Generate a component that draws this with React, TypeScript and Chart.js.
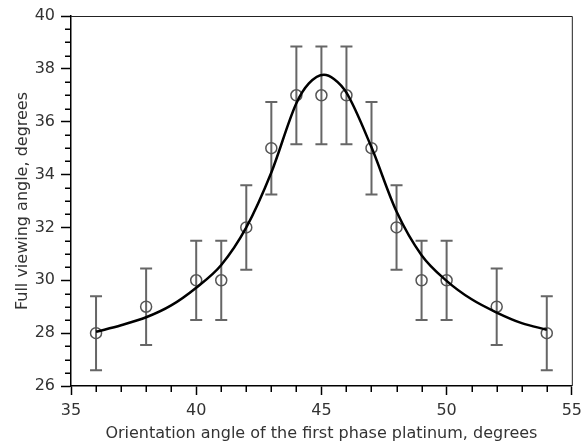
import React, { useEffect, useRef } from 'react';
import { Chart, registerables } from 'chart.js';

Chart.register(...registerables);

// Measured points (orientation angle, full viewing angle) and error half-widths
const xValues = [36, 38, 40, 41, 42, 43, 44, 45, 46, 47, 48, 49, 50, 52, 54];
const yValues = [28, 29, 30, 30, 32, 35, 37, 37, 37, 35, 32, 30, 30, 29, 28];
const errValues = [1.4, 1.45, 1.5, 1.5, 1.6, 1.75, 1.85, 1.85, 1.85, 1.75, 1.6, 1.5, 1.5, 1.45, 1.4];

// Fitted curve
const fitX = [36, 37, 38, 39, 40, 41, 42, 43, 44, 44.5, 45.1, 45.5, 46, 47, 48, 49, 50, 51, 52, 53, 54];
const fitY = [28.05, 28.3, 28.6, 29.05, 29.72, 30.58, 32.0, 34.08, 36.7, 37.45, 37.78, 37.62, 37.1, 35.03, 32.6, 30.95, 29.98, 29.28, 28.78, 28.38, 28.13];

const xTitle = 'Orientation angle of the first phase platinum, degrees';
const yTitle = 'Full viewing angle, degrees';

const FONT = "'DejaVu Sans', Verdana, sans-serif";

export default function App() {
  const ref = useRef<HTMLCanvasElement | null>(null);

  useEffect(() => {
    const canvas = ref.current;
    if (!canvas) return;

    const errorBars = {
      id: 'errorBars',
      beforeDatasetsDraw(chart: any) {
        const { ctx, scales } = chart;
        const x = scales.x;
        const y = scales.y;
        ctx.save();
        ctx.strokeStyle = '#666';
        ctx.lineWidth = 2;
        const cap = 6;
        xValues.forEach((xv, i) => {
          const px = x.getPixelForValue(xv);
          const top = y.getPixelForValue(yValues[i] + errValues[i]);
          const bot = y.getPixelForValue(yValues[i] - errValues[i]);
          ctx.beginPath();
          ctx.moveTo(px, top);
          ctx.lineTo(px, bot);
          ctx.moveTo(px - cap, top);
          ctx.lineTo(px + cap, top);
          ctx.moveTo(px - cap, bot);
          ctx.lineTo(px + cap, bot);
          ctx.stroke();
        });
        ctx.restore();
      },
    };

    const frameTicks = {
      id: 'frameTicks',
      afterDraw(chart: any) {
        const { ctx, chartArea, scales } = chart;
        const x = scales.x;
        const y = scales.y;
        ctx.save();
        // top and right frame
        ctx.strokeStyle = '#222';
        ctx.lineWidth = 1;
        ctx.beginPath();
        ctx.moveTo(chartArea.left, chartArea.top + 0.5);
        ctx.lineTo(chartArea.right + 0.5, chartArea.top + 0.5);
        ctx.lineTo(chartArea.right + 0.5, chartArea.bottom);
        ctx.stroke();
        // minor ticks
        ctx.strokeStyle = '#000';
        ctx.lineWidth = 1.5;
        ctx.beginPath();
        for (let v = 36; v < 55; v += 1) {
          if (v % 5 === 0) continue;
          const px = Math.round(x.getPixelForValue(v)) + 0.25;
          ctx.moveTo(px, chartArea.bottom);
          ctx.lineTo(px, chartArea.bottom + 6);
        }
        for (let v = 26.5; v < 40; v += 0.5) {
          if (v % 2 === 0) continue;
          const py = Math.round(y.getPixelForValue(v)) + 0.25;
          ctx.moveTo(chartArea.left - 6, py);
          ctx.lineTo(chartArea.left, py);
        }
        ctx.stroke();
        ctx.restore();
      },
    };

    const chart = new Chart(canvas, {
      type: 'scatter',
      data: {
        datasets: [
          {
            label: 'fit',
            data: fitX.map((v, i) => ({ x: v, y: fitY[i] })),
            showLine: true,
            borderColor: '#000',
            borderWidth: 2.5,
            pointRadius: 0,
            cubicInterpolationMode: 'monotone',
            order: 0,
          },
          {
            label: 'measured',
            data: xValues.map((v, i) => ({ x: v, y: yValues[i] })),
            showLine: false,
            pointStyle: 'circle',
            pointRadius: 5.5,
            borderColor: '#555',
            borderWidth: 1.5,
            backgroundColor: 'rgba(0,0,0,0)',
            order: 1,
          },
        ],
      },
      options: {
        responsive: false,
        animation: false,
        devicePixelRatio: 1,
        layout: { padding: { left: 0, top: 16, right: 13, bottom: 0 } },
        plugins: {
          legend: { display: false },
          tooltip: { enabled: false },
        },
        scales: {
          x: {
            type: 'linear',
            min: 35,
            max: 55,
            afterFit(scale: any) {
              scale.height = 57;
            },
            ticks: {
              stepSize: 5,
              padding: 6,
              color: '#333',
              font: { family: FONT, size: 16 },
            },
            grid: {
              drawOnChartArea: false,
              drawTicks: true,
              tickLength: 9,
              tickColor: '#000',
              tickWidth: 1.5,
            },
            border: { display: true, color: '#000', width: 1.5 },
            title: {
              display: true,
              text: xTitle,
              color: '#333',
              font: { family: FONT, size: 16 },
              padding: { top: 0, bottom: 0 },
            },
          },
          y: {
            type: 'linear',
            min: 26,
            max: 40,
            afterFit(scale: any) {
              scale.width = 71;
            },
            ticks: {
              stepSize: 2,
              padding: 6,
              color: '#333',
              font: { family: FONT, size: 16 },
            },
            grid: {
              drawOnChartArea: false,
              drawTicks: true,
              tickLength: 10,
              tickColor: '#000',
              tickWidth: 1.5,
            },
            border: { display: true, color: '#000', width: 1.5 },
            title: {
              display: true,
              text: yTitle,
              color: '#333',
              font: { family: FONT, size: 16 },
              padding: { top: 13, bottom: 0 },
            },
          },
        },
      },
      plugins: [errorBars, frameTicks],
    } as any);

    return () => chart.destroy();
  }, []);

  return (
    <div style={{ position: 'absolute', left: 0, top: 0, width: 588, height: 443, background: '#fff' }}>
      <canvas ref={ref} width={588} height={443} style={{ display: 'block' }} />
    </div>
  );
}
